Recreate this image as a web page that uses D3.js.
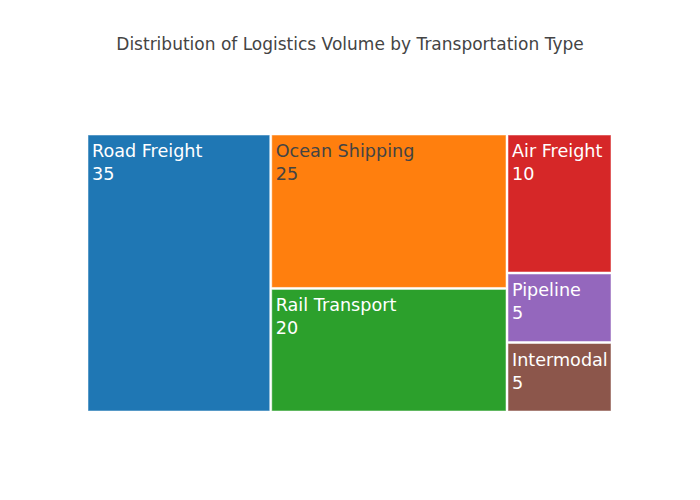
<!DOCTYPE html>
<html><head><meta charset="utf-8">
<script src="https://cdn.jsdelivr.net/npm/d3@7"></script>
<style>body{margin:0;background:#fff}svg{display:block}</style>
</head><body>
<svg id="c" width="700" height="500"></svg>
<script>
const categories = ["Road Freight","Ocean Shipping","Rail Transport","Air Freight","Pipeline","Intermodal"];
const values = [35,25,20,10,5,5];
const colors = ["#1f77b4","#ff7f0e","#2ca02c","#d62728","#9467bd","#8c564b"];
const textColors = ["#fff","#444","#fff","#fff","#fff","#fff"];

const svg = d3.select("#c");
const font = "'DejaVu Sans', sans-serif";
svg.append("text").attr("x",350).attr("y",50).attr("text-anchor","middle")
  .attr("font-family",font).attr("font-size",17).attr("fill","#444")
  .text("Distribution of Logistics Volume by Transportation Type");

const X0=87, Y0=134, X1=612, Y1=412;
const root = d3.hierarchy({children: categories.map((c,i)=>({name:c,value:values[i],i}))})
  .sum(d=>d.value||0);
d3.treemap().tile(d3.treemapSquarify.ratio(1)).size([X1-X0, Y1-Y0]).round(false)(root);

const g = svg.append("g").attr("transform",`translate(${X0},${Y0})`);
const cell = g.selectAll("g").data(root.leaves()).join("g");
cell.append("rect")
  .attr("x",d=>d.x0+1).attr("y",d=>d.y0+1)
  .attr("width",d=>d.x1-d.x0-2).attr("height",d=>d.y1-d.y0-2)
  .attr("fill",d=>colors[d.data.i]).attr("stroke","rgba(255,255,255,0.5)").attr("stroke-width",1);
const t = cell.append("text").attr("font-family",font).attr("font-size",17.6)
  .attr("fill",d=>textColors[d.data.i]);
t.append("tspan").attr("x",d=>d.x0+5).attr("y",d=>d.y0+23).text(d=>d.data.name);
t.append("tspan").attr("x",d=>d.x0+5).attr("y",d=>d.y0+46).text(d=>d.data.value);
</script>
</body></html>
